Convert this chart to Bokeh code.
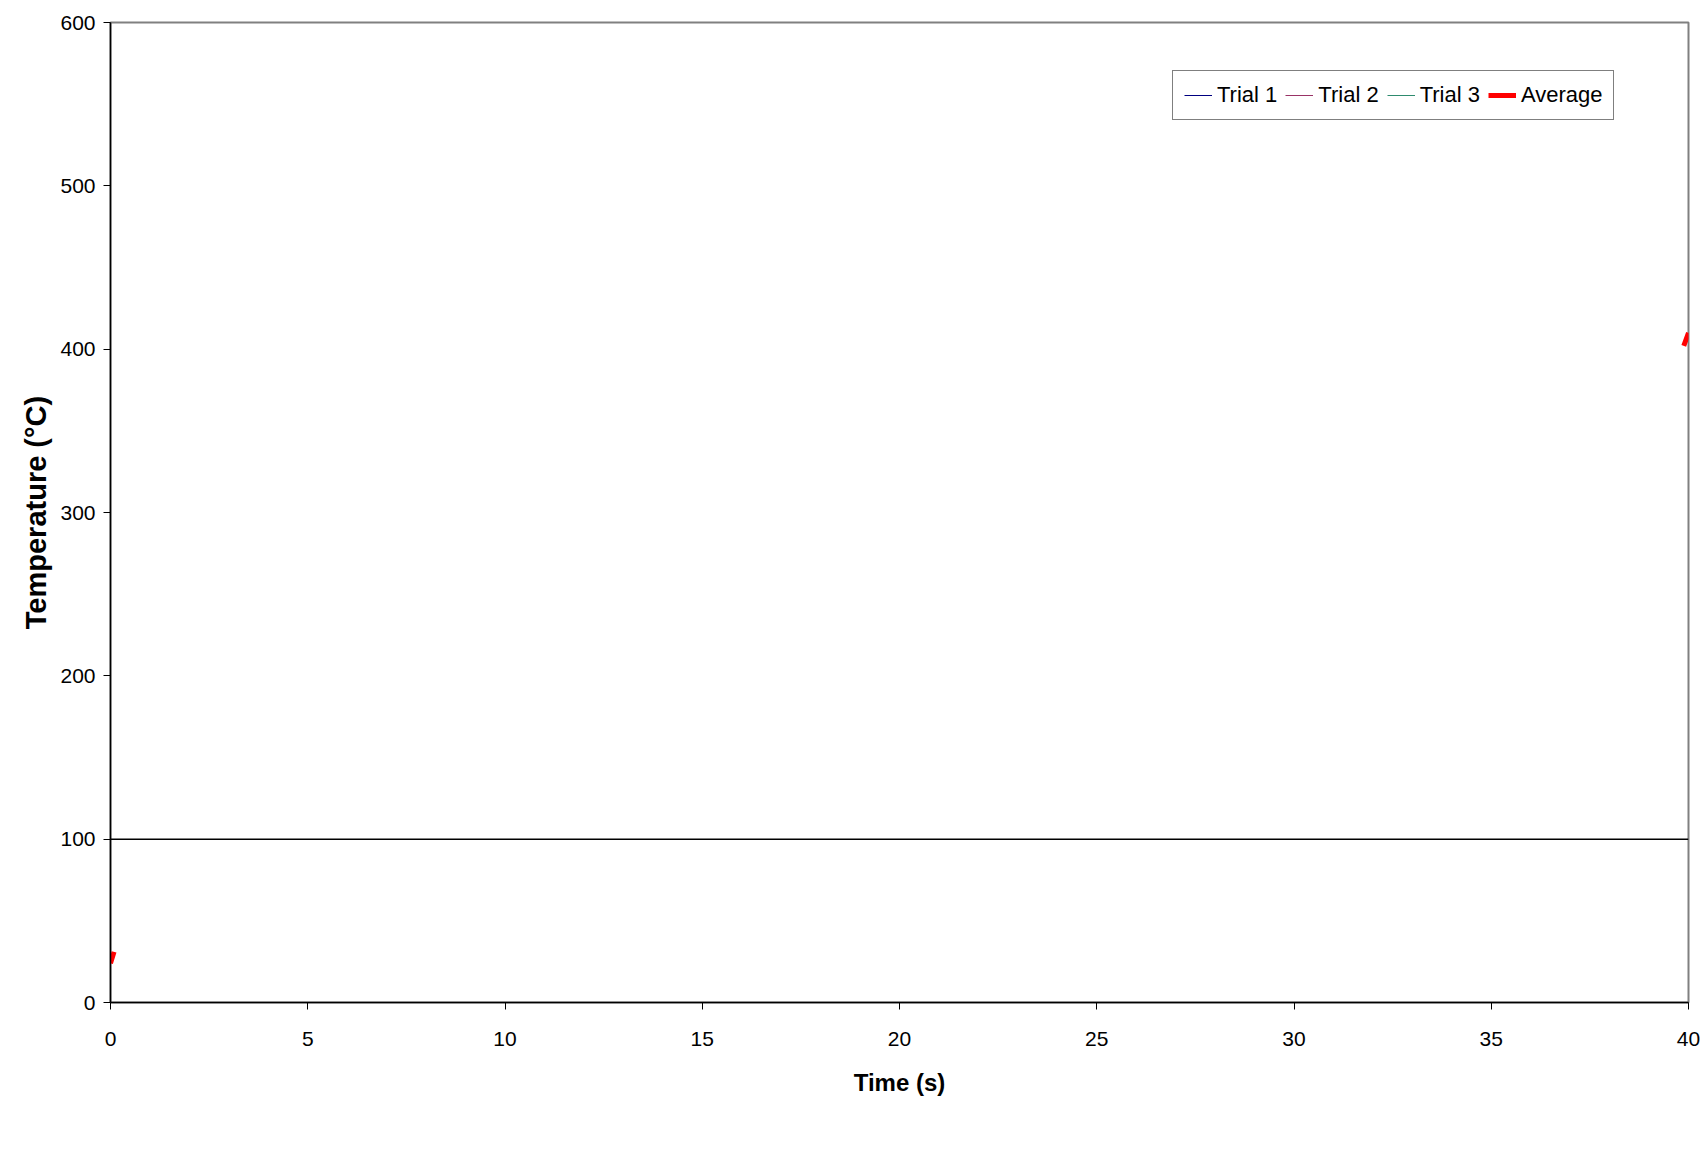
from bokeh.plotting import figure
from bokeh.models import Range1d, SingleIntervalTicker, Span, Legend, LegendItem
from bokeh.embed import file_html
from bokeh.resources import INLINE
import numpy as np

# ---- data ----
# the three trial curves are not visible anywhere inside the axes
trial1_time = [np.nan]
trial1_temp = [np.nan]
trial2_time = [np.nan]
trial2_temp = [np.nan]
trial3_time = [np.nan]
trial3_temp = [np.nan]
# only the clipped ends of the Average curve are visible in the chart
average_time = [0.0, 0.09, np.nan, 39.88, 40.0]
average_temp = [24.0, 31.0, np.nan, 402.0, 410.0]
reference_temp = 100

x_ticks_step = 5
y_ticks_step = 100

FONT = "Liberation Sans"

p = figure(width=1700, height=1130, output_backend="svg", toolbar_location=None,
           x_range=Range1d(0, 40), y_range=Range1d(0, 600),
           min_border_left=110, min_border_right=12, min_border_top=22, min_border_bottom=128)
p.background_fill_color = "white"
p.border_fill_color = "white"
p.outline_line_color = "#808080"
p.outline_line_width = 2
p.xgrid.visible = False
p.ygrid.visible = False

l1 = p.line(trial1_time, trial1_temp, line_color="#000080", line_width=1)
l2 = p.line(trial2_time, trial2_temp, line_color="#993366", line_width=1)
l3 = p.line(trial3_time, trial3_temp, line_color="#2E8B6E", line_width=1)
la = p.line(average_time, average_temp, line_color="#FF0000", line_width=5)

p.add_layout(Span(location=reference_temp, dimension="width", line_color="black", line_width=1.5))

for ax in (p.xaxis[0], p.yaxis[0]):
    ax.axis_line_color = "black"
    ax.axis_line_width = 1.5
    ax.major_tick_line_color = "black"
    ax.major_tick_out = 7
    ax.major_tick_in = 0
    ax.minor_tick_line_color = None
    ax.major_label_text_font = FONT
    ax.major_label_text_font_size = "21px"
    ax.major_label_text_color = "black"
    ax.axis_label_text_font = FONT
    ax.axis_label_text_font_style = "bold"
    ax.axis_label_text_color = "black"

p.xaxis[0].ticker = SingleIntervalTicker(interval=x_ticks_step)
p.yaxis[0].ticker = SingleIntervalTicker(interval=y_ticks_step)
p.xaxis[0].axis_label = "Time (s)"
p.yaxis[0].axis_label = "Temperature (\u00b0C)"
p.xaxis[0].axis_label_text_font_size = "24px"
p.yaxis[0].axis_label_text_font_size = "29px"
p.xaxis[0].major_label_standoff = 22
p.yaxis[0].major_label_standoff = 8
p.xaxis[0].axis_label_standoff = 20
p.yaxis[0].axis_label_standoff = 5

legend = Legend(items=[
    LegendItem(label="Trial 1", renderers=[l1]),
    LegendItem(label="Trial 2", renderers=[l2]),
    LegendItem(label="Trial 3", renderers=[l3]),
    LegendItem(label="Average", renderers=[la]),
], orientation="horizontal", location=(1062, 882))
legend.label_text_font = FONT
legend.label_text_font_size = "22px"
legend.label_text_color = "black"
legend.border_line_color = "black"
legend.border_line_width = 1
legend.background_fill_color = "white"
legend.background_fill_alpha = 1
legend.padding = 11
legend.spacing = 8
legend.glyph_width = 28
legend.label_standoff = 5
legend.margin = 0
p.add_layout(legend, "center")

open("out.html", "w").write(file_html(p, INLINE))
